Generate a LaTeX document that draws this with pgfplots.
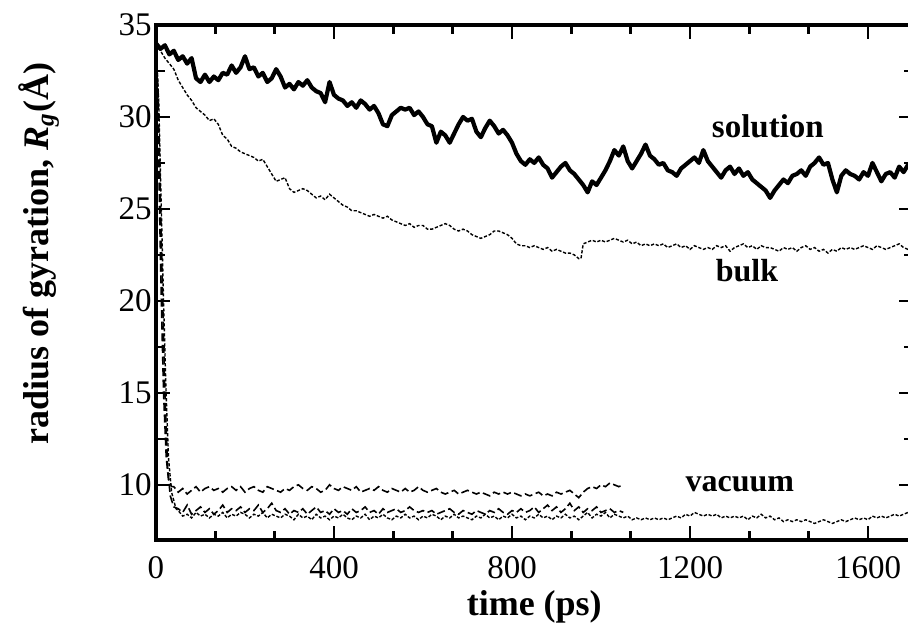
\documentclass[border=0pt]{standalone}
\usepackage{fontspec}
\setmainfont{Liberation Serif}
\usepackage{pgfplots}
\pgfplotsset{compat=1.18}
\begin{document}
\begin{tikzpicture}
\begin{axis}[
  scale only axis,
  width=378.25pt, height=257.5pt,
  xmin=0, xmax=1700, ymin=7, ymax=35,
  xtick={0,400,800,1200,1600},
  minor x tick num=2,
  ytick={10,15,20,25,30,35},
  minor y tick num=1,
  tick align=inside,
  major tick length=7pt,
  minor tick length=4.5pt,
  every tick/.append style={black, line width=1.2pt},
  axis line style={line width=1.6pt},
  /pgf/number format/assume math mode=true,
  /pgf/number format/1000 sep={},
  ticklabel style={font=\fontsize{16.5}{18}\selectfont},
  xticklabel style={anchor=base, yshift=-19pt},
  yticklabel style={inner sep=0pt, xshift=-2pt},
  xlabel={\fontsize{18}{20}\selectfont\bfseries time (ps)},
  xlabel style={at={(axis description cs:0.5,-0.146)}, anchor=base},
  ylabel={\fontsize{18}{20}\selectfont\bfseries radius of gyration, \textit{R\textsubscript{g}}(Å)},
  ylabel style={at={(axis description cs:-0.155,0.556)}, anchor=center, rotate=0},
]
% solution
\addplot[black, line width=2.1pt, line join=round] table {
0 34.0
10 33.7
20 33.9
30 33.4
40 33.6
50 33.1
60 33.3
70 32.9
80 33.2
90 32.1
100 31.9
110 32.3
120 31.9
130 32.2
140 32.0
150 32.4
160 32.3
170 32.8
180 32.4
190 32.7
200 33.3
210 32.6
220 32.7
230 32.2
240 32.4
250 31.9
260 32.1
270 32.6
280 32.2
290 31.6
300 31.8
310 31.5
320 31.9
330 31.7
340 32.0
350 31.6
360 31.4
370 31.3
380 30.8
390 31.9
400 31.2
410 31.0
420 30.9
430 30.6
440 30.8
450 30.5
460 30.9
470 30.7
480 30.4
490 30.6
500 30.2
510 29.6
520 29.5
530 30.1
540 30.3
550 30.5
560 30.4
570 30.5
580 30.1
590 30.3
600 30.0
610 29.6
620 29.5
630 28.6
640 29.2
650 29.0
660 28.6
670 29.1
680 29.6
690 30.0
700 29.8
710 29.9
720 29.2
730 28.9
740 29.4
750 29.8
760 29.5
770 29.1
780 29.3
790 29.0
800 28.6
810 28.0
820 27.6
830 27.4
840 27.7
850 27.5
860 27.8
870 27.4
880 27.2
890 26.7
900 27.0
910 27.3
920 27.5
930 27.1
940 26.9
950 26.6
960 26.3
970 25.9
980 26.5
990 26.3
1000 26.7
1010 27.1
1020 27.6
1030 28.2
1040 27.9
1050 28.4
1060 27.6
1070 27.2
1080 27.6
1090 28.0
1100 28.5
1110 27.9
1120 27.7
1130 27.4
1140 27.5
1150 27.1
1160 27.0
1170 26.8
1180 27.2
1190 27.4
1200 27.6
1210 27.8
1220 27.5
1230 28.2
1240 27.6
1250 27.3
1260 27.0
1270 26.7
1280 27.1
1290 27.3
1300 26.9
1310 27.2
1320 26.8
1330 27.0
1340 26.6
1350 26.4
1360 26.2
1370 26.0
1380 25.6
1390 26.0
1400 26.3
1410 26.6
1420 26.4
1430 26.8
1440 26.9
1450 27.1
1460 26.8
1470 27.3
1480 27.5
1490 27.8
1500 27.4
1510 27.5
1520 26.6
1530 25.9
1540 26.8
1550 27.1
1560 26.9
1570 26.8
1580 26.6
1590 27.0
1600 26.8
1610 27.5
1620 27.0
1630 26.5
1640 26.9
1650 27.0
1660 26.7
1670 27.3
1680 27.0
1690 27.4
1700 27.2
};
% bulk
\addplot[black, line width=0.7pt, dash pattern=on 1.6pt off 0.9pt] table {
0 34.0
10 33.6
20 33.2
30 32.9
40 32.6
50 32.0
60 31.6
70 31.2
80 30.9
90 30.5
100 30.3
110 30.1
120 29.8
130 29.9
140 29.6
150 29.0
160 28.8
170 28.4
180 28.3
190 28.1
200 28.0
210 27.9
220 27.8
230 27.6
240 27.7
250 27.3
260 26.9
270 26.5
280 26.6
290 26.7
300 26.1
310 25.9
320 26.0
330 26.1
340 26.0
350 25.8
360 25.6
370 25.7
380 25.5
390 25.8
400 25.6
410 25.4
420 25.2
430 25.1
440 24.9
450 24.9
460 24.8
470 24.7
480 24.6
490 24.7
500 24.6
510 24.5
520 24.6
530 24.4
540 24.3
550 24.2
560 24.1
570 24.2
580 24.0
590 24.1
600 24.1
610 23.9
620 23.9
630 24.0
640 24.1
650 24.2
660 24.1
670 23.9
680 23.8
690 23.9
700 23.8
710 23.6
720 23.5
730 23.4
740 23.5
750 23.6
760 23.8
770 23.8
780 23.7
790 23.6
800 23.4
810 23.1
820 23.0
830 23.0
840 22.9
850 23.0
860 22.9
870 22.8
880 22.9
890 22.7
900 22.8
910 22.7
920 22.6
930 22.6
940 22.5
950 22.3
955 22.3
960 23.1
970 23.2
980 23.3
990 23.2
1000 23.3
1010 23.2
1020 23.3
1030 23.4
1040 23.3
1050 23.2
1060 23.3
1070 23.1
1080 23.2
1090 23.0
1100 23.1
1110 23.0
1120 23.1
1130 23.0
1140 23.1
1150 22.9
1160 23.0
1170 23.1
1180 22.9
1190 23.0
1200 22.8
1210 23.0
1220 22.9
1230 22.8
1240 22.9
1250 22.8
1260 23.0
1270 22.9
1280 23.0
1290 22.7
1300 22.9
1310 23.0
1320 23.1
1330 22.9
1340 23.0
1350 22.8
1360 23.0
1370 22.9
1380 22.9
1390 22.8
1400 22.7
1410 22.9
1420 22.8
1430 22.9
1440 22.7
1450 22.9
1460 23.0
1470 22.8
1480 22.9
1490 22.7
1500 22.8
1510 22.6
1520 22.8
1530 22.7
1540 22.9
1550 22.8
1560 22.9
1570 22.8
1580 22.9
1590 23.0
1600 22.9
1610 22.8
1620 23.0
1630 22.9
1640 22.8
1650 22.9
1660 23.0
1670 23.1
1680 22.9
1690 22.8
1700 22.9
};
% vacuum, upper (dashed)
\addplot[black, line width=0.8pt, dash pattern=on 4pt off 1.8pt] table {
0 34.0
3 32.0
8 25.0
12 20.0
17 15.0
23 11.5
28 10.3
35 9.9
40 9.9
50 9.6
60 9.8
70 9.5
80 9.7
90 9.9
100 9.6
110 9.8
120 9.9
130 9.7
140 9.8
150 9.6
160 9.8
170 9.9
180 9.7
190 9.9
200 9.6
210 9.8
220 9.9
230 9.7
240 9.6
250 9.9
260 9.8
270 9.7
280 9.6
290 9.8
300 9.7
310 9.9
320 10.0
330 9.8
340 9.7
350 9.9
360 9.8
370 9.6
380 9.7
390 10.0
400 9.8
410 9.7
420 9.9
430 9.8
440 9.7
450 9.9
460 9.6
470 9.7
480 9.8
490 9.7
500 9.9
510 9.7
520 9.6
530 9.8
540 9.7
550 9.6
560 9.8
570 9.6
580 9.7
590 9.9
600 9.7
610 9.6
620 9.7
630 9.8
640 9.6
650 9.5
660 9.6
670 9.7
680 9.5
690 9.6
700 9.7
710 9.6
720 9.5
730 9.6
740 9.5
750 9.4
760 9.6
770 9.5
780 9.6
790 9.5
800 9.6
810 9.5
820 9.4
830 9.5
840 9.4
850 9.5
860 9.6
870 9.4
880 9.5
890 9.4
900 9.6
910 9.5
920 9.6
930 9.7
940 9.5
950 9.3
960 9.6
970 9.8
980 9.9
990 9.8
1000 10.0
1010 9.9
1020 10.1
1030 10.0
1040 9.9
1050 10.0
};
% vacuum, lower (dashed)
\addplot[black, line width=0.8pt, dash pattern=on 4pt off 1.8pt] table {
0 34.0
5 31.0
10 25.5
15 20.0
20 15.0
26 11.0
32 9.4
40 8.8
50 8.7
60 8.5
70 8.9
80 8.4
90 8.6
100 8.8
110 8.5
120 8.7
130 8.4
140 8.6
150 8.9
160 8.5
170 8.7
180 8.6
190 8.8
200 8.5
210 8.7
220 8.6
230 8.9
240 8.5
250 8.7
260 9.0
270 8.6
280 8.5
290 8.7
300 8.4
310 8.6
320 8.5
330 8.7
340 8.4
350 8.6
360 8.8
370 8.5
380 8.6
390 8.4
400 8.7
410 8.5
420 8.6
430 8.4
440 8.7
450 8.5
460 8.6
470 8.8
480 8.5
490 8.6
500 8.4
510 8.7
520 8.5
530 8.6
540 8.7
550 8.5
560 8.6
570 8.8
580 8.6
590 8.5
600 8.6
610 8.5
620 8.6
630 8.4
640 8.5
650 8.6
660 8.7
670 8.5
680 8.4
690 8.6
700 8.5
710 8.4
720 8.6
730 8.5
740 8.4
750 8.6
760 8.5
770 8.7
780 8.5
790 8.4
800 8.6
810 8.5
820 8.7
830 8.5
840 8.6
850 8.8
860 8.5
870 8.7
880 8.9
890 8.6
900 8.8
910 8.5
920 8.7
930 9.0
940 8.6
950 8.8
960 8.5
970 8.7
980 8.6
990 8.8
1000 8.5
1010 8.6
1020 8.7
1030 8.5
1040 8.6
1050 8.5
};
% vacuum, long run (fine dashed)
\addplot[black, line width=0.7pt, dash pattern=on 1.6pt off 0.9pt] table {
0 34.0
6 31.0
12 25.0
17 20.0
22 15.5
28 11.5
35 9.6
45 8.7
50 8.6
60 8.3
70 8.4
80 8.2
90 8.5
100 8.3
110 8.4
120 8.2
130 8.4
140 8.3
150 8.5
160 8.2
170 8.4
180 8.3
190 8.5
200 8.4
210 8.2
220 8.4
230 8.3
240 8.5
250 8.2
260 8.4
270 8.3
280 8.2
290 8.4
300 8.3
310 8.1
320 8.4
330 8.2
340 8.3
350 8.1
360 8.4
370 8.2
380 8.3
390 8.1
400 8.3
410 8.2
420 8.4
430 8.2
440 8.1
450 8.3
460 8.2
470 8.4
480 8.1
490 8.3
500 8.2
510 8.4
520 8.2
530 8.1
540 8.3
550 8.2
560 8.4
570 8.2
580 8.3
590 8.1
600 8.3
610 8.2
620 8.4
630 8.3
640 8.1
650 8.3
660 8.2
670 8.4
680 8.2
690 8.3
700 8.2
710 8.1
720 8.3
730 8.2
740 8.4
750 8.2
760 8.3
770 8.1
780 8.3
790 8.2
800 8.4
810 8.2
820 8.3
830 8.1
840 8.3
850 8.2
860 8.4
870 8.2
880 8.3
890 8.1
900 8.3
910 8.2
920 8.4
930 8.2
940 8.3
950 8.1
960 8.3
970 8.5
980 8.2
990 8.4
1000 8.3
1010 8.5
1020 8.2
1030 8.4
1040 8.3
1050 8.2
1060 8.3
1070 8.1
1080 8.2
1090 8.1
1100 8.2
1110 8.1
1120 8.2
1130 8.1
1140 8.2
1150 8.1
1160 8.2
1170 8.3
1180 8.2
1190 8.4
1200 8.3
1210 8.5
1220 8.4
1230 8.3
1240 8.4
1250 8.3
1260 8.4
1270 8.2
1280 8.3
1290 8.2
1300 8.3
1310 8.2
1320 8.3
1330 8.1
1340 8.3
1350 8.2
1360 8.4
1370 8.2
1380 8.3
1390 8.1
1400 8.2
1410 8.0
1420 8.1
1430 8.0
1440 8.1
1450 8.0
1460 8.1
1470 8.0
1480 7.9
1490 8.0
1500 8.1
1510 8.0
1520 7.9
1530 8.0
1540 8.1
1550 8.0
1560 8.1
1570 8.2
1580 8.1
1590 8.2
1600 8.1
1610 8.3
1620 8.2
1630 8.3
1640 8.2
1650 8.3
1660 8.4
1670 8.3
1680 8.4
1690 8.5
1700 8.5
};
\node[anchor=base, font=\fontsize{16.5}{18}\selectfont\bfseries] at (axis cs:1375,28.86) {solution};
\node[anchor=base, font=\fontsize{16}{18}\selectfont\bfseries] at (axis cs:1328,21.03) {bulk};
\node[anchor=base, font=\fontsize{16}{18}\selectfont\bfseries] at (axis cs:1312,9.62) {vacuum};
\coordinate (O) at (rel axis cs:0,0);
\end{axis}
\pgfresetboundingbox
\path[use as bounding box] ([shift={(-78pt,-48.5pt)}]O) rectangle ++(454pt,318.5pt);
\end{tikzpicture}
\end{document}
